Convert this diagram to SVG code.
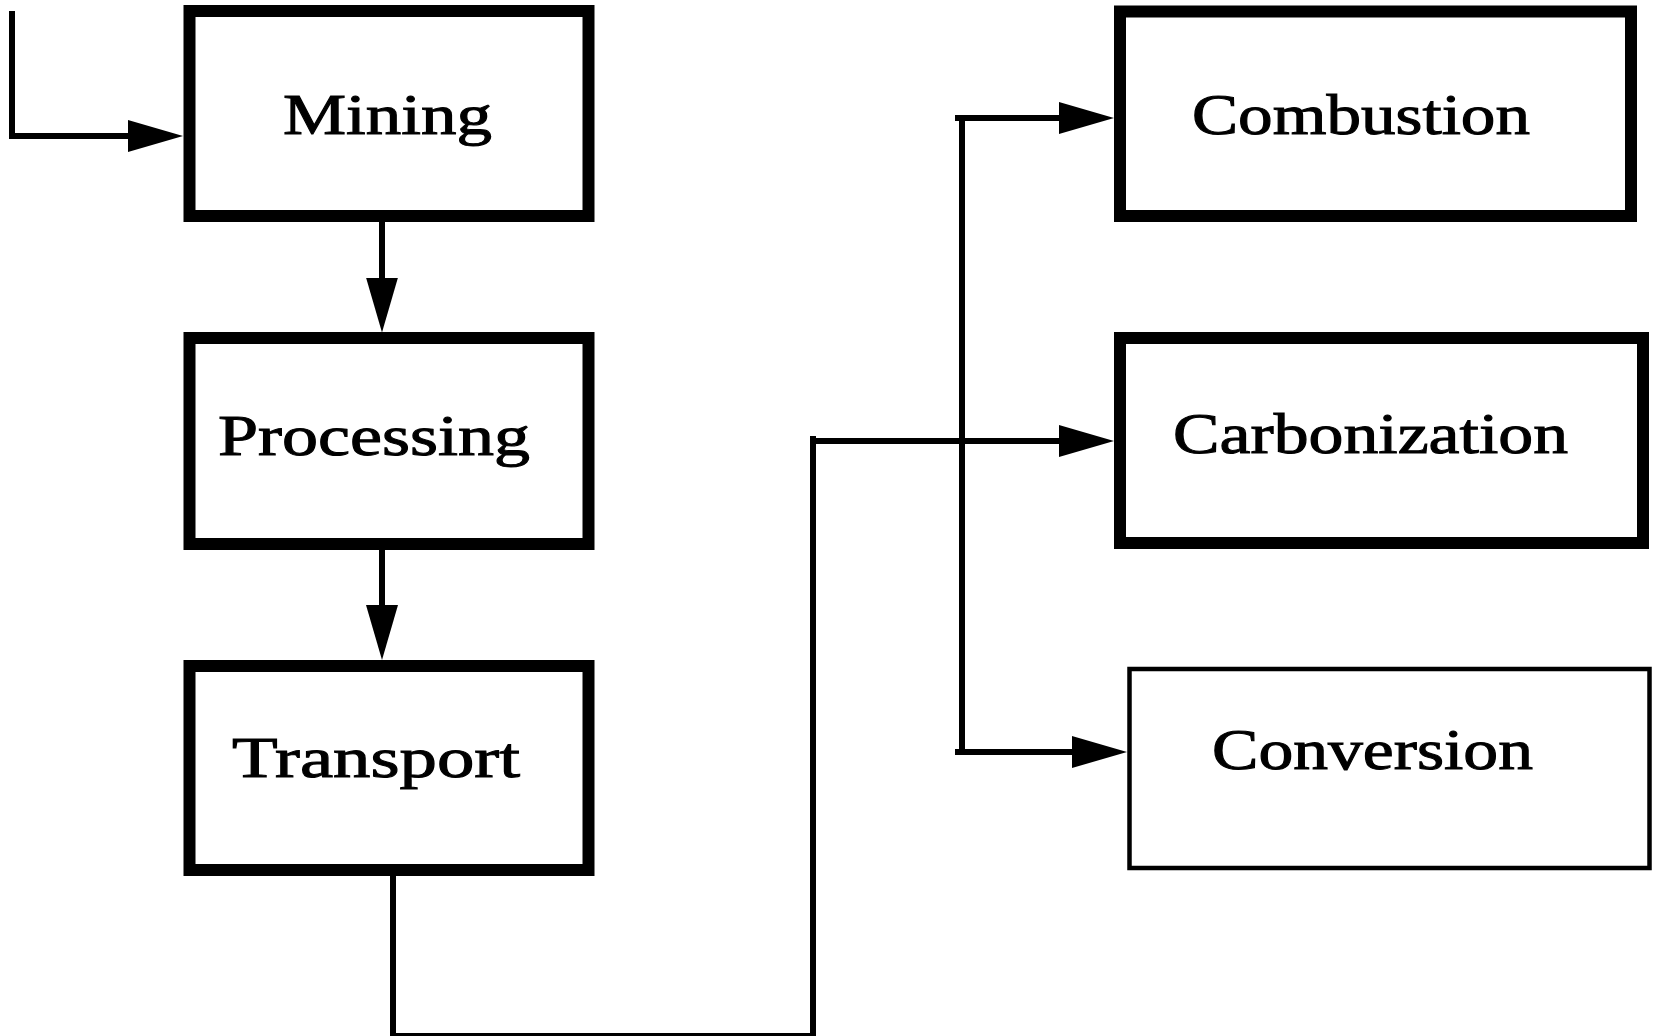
<svg xmlns="http://www.w3.org/2000/svg" width="1653" height="1036" viewBox="0 0 1653 1036">
  <style>
    .box { fill: #ffffff; stroke: #000000; stroke-width: 12; }
    .thin { fill: #ffffff; stroke: #000000; stroke-width: 4.5; }
    .lbl { font-family: "Liberation Serif", "Times New Roman", serif; font-size: 56px; fill: #000000; stroke: #000000; stroke-width: 1; }
    .wire { fill: none; stroke: #000000; stroke-width: 6; stroke-linejoin: miter; }
    .arr { marker-end: url(#ah); }
  </style>
  <defs>
    <marker id="ah" markerUnits="userSpaceOnUse" markerWidth="55" markerHeight="32" refX="13" refY="16" orient="auto">
      <path d="M0,0 L55,16 L0,32 Z" fill="#000000"/>
    </marker>
  </defs>
  <rect width="1653" height="1036" fill="#ffffff"/>

  <g id="connectors">
    <path class="wire arr" d="M12,11 L12,136 L141,136"/>
    <path class="wire arr" d="M382,222 L382,290.5"/>
    <path class="wire arr" d="M382,550 L382,618"/>
    <path class="wire arr" d="M393,876 L393,1036 L813,1036 L813,436 L813,441 L1072,441"/>
    <path class="wire" d="M962,118 L962,752"/>
    <path class="wire arr" d="M955,118 L1072,118"/>
    <path class="wire arr" d="M955,752 L1085,752"/>
  </g>

  <g id="mining">
    <rect class="box" x="189.5" y="11" width="399" height="205"/>
    <text class="lbl" x="283" y="134" textLength="209" lengthAdjust="spacingAndGlyphs">Mining</text>
  </g>
  <g id="processing">
    <rect class="box" x="189.5" y="338" width="399" height="206"/>
    <text class="lbl" x="218" y="455" textLength="312" lengthAdjust="spacingAndGlyphs">Processing</text>
  </g>
  <g id="transport">
    <rect class="box" x="189.5" y="666" width="399" height="204"/>
    <text class="lbl" x="232" y="777" textLength="288" lengthAdjust="spacingAndGlyphs">Transport</text>
  </g>
  <g id="combustion">
    <rect class="box" x="1120" y="11.5" width="511" height="204.5"/>
    <text class="lbl" x="1192" y="134" textLength="338" lengthAdjust="spacingAndGlyphs">Combustion</text>
  </g>
  <g id="carbonization">
    <rect class="box" x="1120" y="338" width="523" height="205"/>
    <text class="lbl" x="1173" y="453" textLength="395" lengthAdjust="spacingAndGlyphs">Carbonization</text>
  </g>
  <g id="conversion">
    <rect class="thin" x="1129.5" y="669" width="520" height="199"/>
    <text class="lbl" x="1212" y="769" textLength="321" lengthAdjust="spacingAndGlyphs">Conversion</text>
  </g>
</svg>
